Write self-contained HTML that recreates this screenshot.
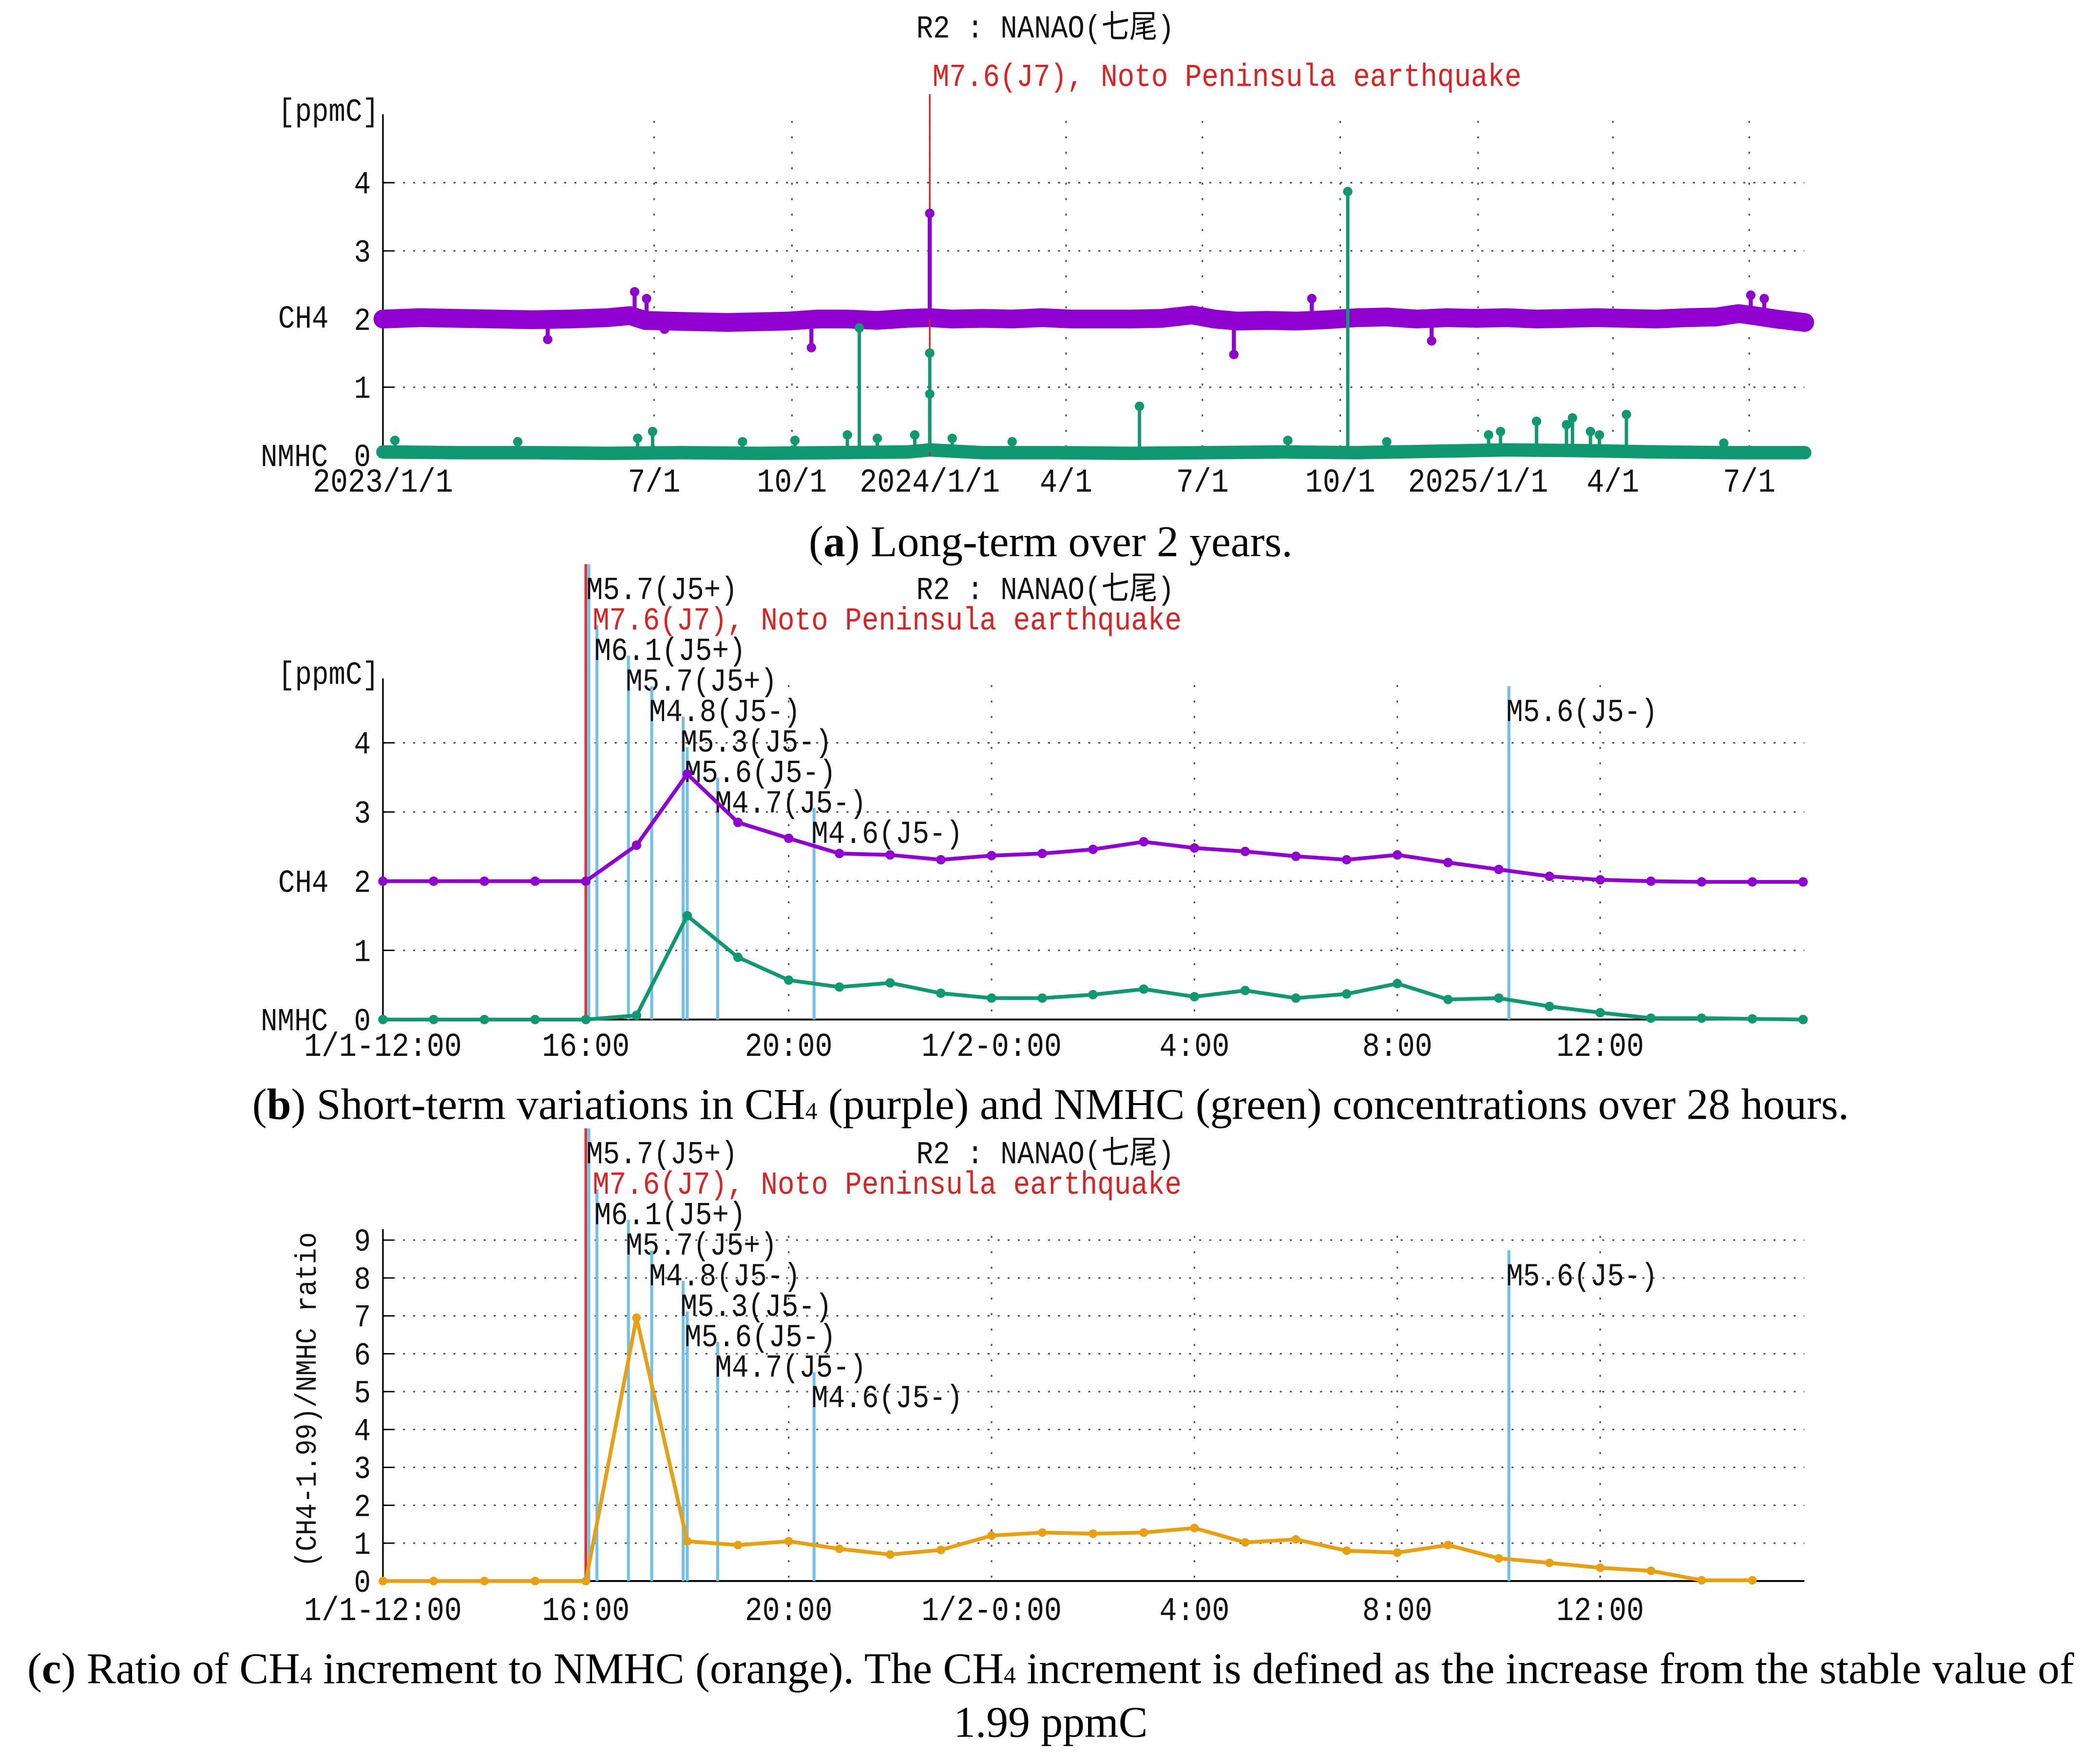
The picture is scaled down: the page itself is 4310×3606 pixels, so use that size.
<!DOCTYPE html>
<html><head><meta charset="utf-8">
<style>
html,body{margin:0;padding:0;background:#fff;}
svg{display:block;}
.t{font-family:"Liberation Mono","Noto Sans CJK JP",monospace;}
.cap{font-family:"Liberation Serif",serif;font-size:32.5px;fill:#000;}
</style></head>
<body>
<svg id="fig" width="4310" height="3606" viewBox="0 0 1563 1308" preserveAspectRatio="none" xmlns="http://www.w3.org/2000/svg">
<rect width="1563" height="1308" fill="#fff"/>
<text class="cap" x="782" y="414" text-anchor="middle">(<tspan font-weight="bold">a</tspan>) Long-term over 2 years.</text>
<text class="cap" x="782" y="833" text-anchor="middle">(<tspan font-weight="bold">b</tspan>) Short-term variations in CH<tspan font-size="18">4</tspan> (purple) and NMHC (green) concentrations over 28 hours.</text>
<text class="cap" x="782" y="1253" text-anchor="middle">(<tspan font-weight="bold">c</tspan>) Ratio of CH<tspan font-size="18">4</tspan> increment to NMHC (orange). The CH<tspan font-size="18">4</tspan> increment is defined as the increase from the stable value of</text>
<text class="cap" x="782" y="1293" text-anchor="middle">1.99 ppmC</text>
</svg>
<script>
// ---- Chart (a) data ----
const aTickLabels = ["2023/1/1","7/1","10/1","2024/1/1","4/1","7/1","10/1","2025/1/1","4/1","7/1"];
const aTickDays = [0,181,273,365,456,547,639,731,821,912];
const aCh4Days = [0,25,50,75,100,125,150,165,175,190,210,230,250,270,290,310,330,350,365,380,400,420,440,460,480,500,520,540,555,570,590,610,630,650,670,690,710,730,750,770,790,810,830,850,870,890,905,915,930,949];
const aCh4Vals = [2.0,2.02,2.01,2.0,1.99,2.0,2.02,2.05,1.98,1.97,1.96,1.95,1.96,1.97,2.0,2.0,1.98,2.01,2.02,2.0,2.01,2.0,2.02,2.0,2.0,2.0,2.01,2.06,2.0,1.97,1.98,1.97,1.99,2.02,2.03,2.0,2.02,2.01,2.02,2.0,2.01,2.02,2.01,2.0,2.02,2.03,2.08,2.05,2.0,1.95];
const aCh4SpikeDays = [110,168,176,188,286,365,568,620,700,913,922];
const aCh4SpikeVals = [1.7,2.4,2.3,1.85,1.58,3.55,1.48,2.3,1.68,2.35,2.3];
const aNmhcDays = [0,50,100,150,200,250,300,350,365,400,450,500,550,600,650,700,750,800,850,900,949];
const aNmhcVals = [0.05,0.04,0.04,0.03,0.04,0.03,0.04,0.05,0.08,0.04,0.04,0.03,0.04,0.05,0.04,0.06,0.08,0.07,0.05,0.04,0.04];
const aNmhcSpikeDays = [8,90,170,180,240,275,310,318,330,355,365,365,380,420,505,604,644,670,738,746,770,790,794,806,812,830,895];
const aNmhcSpikeVals = [0.22,0.2,0.25,0.35,0.2,0.22,0.3,1.87,0.25,0.3,1.5,0.9,0.25,0.2,0.72,0.22,3.87,0.2,0.3,0.35,0.5,0.45,0.55,0.35,0.3,0.6,0.18];
const aQuakeDay = 365;

// ---- Chart (b) data (hours after 1/1 12:00) ----
const bTickLabels = ["1/1-12:00","16:00","20:00","1/2-0:00","4:00","8:00","12:00"];
const bTickHours = [0,4,8,12,16,20,24];
const bHours = [0,1,2,3,4,5,6,7,8,9,10,11,12,13,14,15,16,17,18,19,20,21,22,23,24,25,26,27,28];
const bCh4 = [2.0,2.0,2.0,2.0,2.0,2.52,3.55,2.85,2.62,2.4,2.38,2.31,2.37,2.4,2.46,2.57,2.48,2.43,2.36,2.31,2.38,2.27,2.17,2.07,2.02,2.0,1.99,1.99,1.99];
const bNmhc = [0,0,0,0,0,0.06,1.5,0.9,0.57,0.47,0.53,0.38,0.31,0.31,0.36,0.44,0.33,0.42,0.31,0.37,0.52,0.29,0.31,0.19,0.1,0.02,0.02,0.01,0.0];
const quakeHours = [4.06,4.22,4.84,5.3,5.92,6.0,6.6,8.5,22.2];
const quakeLabels = ["M5.7(J5+)","M6.1(J5+)","M5.7(J5+)","M4.8(J5-)","M5.3(J5-)","M5.6(J5-)","M4.7(J5-)","M4.6(J5-)","M5.6(J5-)"];
const quakeLabelRow = [0,2,3,4,5,6,7,8,4];
const mainQuakeHour = 4.0;

// ---- Chart (c) data ----
const cHours = [0,1,2,3,4,5,6,7,8,9,10,11,12,13,14,15,16,17,18,19,20,21,22,23,24,25,26,27];
const cRatio = [0,0,0,0,0,6.95,1.05,0.95,1.05,0.85,0.7,0.82,1.2,1.28,1.25,1.28,1.4,1.02,1.1,0.8,0.75,0.95,0.6,0.48,0.35,0.27,0.02,0.02];
const cTicks = [0,1,2,3,4,5,6,7,8,9];

const NS="http://www.w3.org/2000/svg";
const svg=document.getElementById('fig');
function el(tag,attrs,parent){const e=document.createElementNS(NS,tag);for(const k in attrs)e.setAttribute(k,attrs[k]);(parent||svg).appendChild(e);return e;}
function txt(s,x,y,opts,parent){
  const e=el('text',{x:0,y:0,class:'t','font-size':opts.size||24,fill:opts.fill||'#111','text-anchor':opts.anchor||'start',transform:`translate(${x},${y})`+(opts.rot?` rotate(${opts.rot})`:'')+` scale(${opts.sx||0.87},1)`},parent);
  e.textContent=s;return e;}

const X0=285,X1=1343;
function axesFrame(g,yz,ytop,yGridVals,yScale,xGridXs){
  yGridVals.forEach(v=>{ if(v===0)return;
    const l=el('line',{x1:X0,x2:X1,y1:yScale(v),y2:yScale(v),stroke:'#555','stroke-width':1.2,'stroke-dasharray':'1.5 6'},g);
    
    el('line',{x1:X0,x2:X0+8,y1:yScale(v),y2:yScale(v),stroke:'#000','stroke-width':1},g);
  });
  xGridXs.forEach(x=>{
    const l=el('line',{x1:x,x2:x,y1:ytop+5,y2:yz,stroke:'#555','stroke-width':1.2,'stroke-dasharray':'1.5 10'},g);
    
  });
  const ax=el('line',{x1:X0,x2:X0,y1:ytop,y2:yz,stroke:'#000','stroke-width':1.2},g);
  
  const bx=el('line',{x1:X0,x2:X1,y1:yz,y2:yz,stroke:'#000','stroke-width':1.4},g);
  
}

// ===== Chart A =====
(function(){
  const g=el('g',{});
  const pxDay=(692-285)/365;
  const xs=d=>X0+d*pxDay, ys=v=>339-v*50.75;
  axesFrame(g,339,85,[0,1,2,3,4],ys,aTickDays.slice(1).map(xs));
  const band=el('polyline',{points:aCh4Days.map((d,i)=>xs(d)+','+ys(aCh4Vals[i])).join(' '),fill:'none',stroke:'#9000d0','stroke-width':14,'stroke-linejoin':'round','stroke-linecap':'round'},g);
  
  const nb=el('polyline',{points:aNmhcDays.map((d,i)=>xs(d)+','+ys(aNmhcVals[i])).join(' '),fill:'none',stroke:'#109870','stroke-width':10,'stroke-linejoin':'round','stroke-linecap':'round'},g);
  
  const q=el('line',{x1:xs(aQuakeDay),x2:xs(aQuakeDay),y1:70,y2:339,stroke:'#e02020','stroke-width':1.2},g);
  
  aCh4SpikeDays.forEach((d,i)=>{
    const s=el('line',{x1:xs(d),x2:xs(d),y1:ys(2.0),y2:ys(aCh4SpikeVals[i]),stroke:'#9000d0','stroke-width':3},g);
    
    el('circle',{cx:xs(d),cy:ys(aCh4SpikeVals[i]),r:3.5,fill:'#9000d0'},g);
  });
  aNmhcSpikeDays.forEach((d,i)=>{
    const s=el('line',{x1:xs(d),x2:xs(d),y1:ys(0.05),y2:ys(aNmhcSpikeVals[i]),stroke:'#109870','stroke-width':2.5},g);
    
    el('circle',{cx:xs(d),cy:ys(aNmhcSpikeVals[i]),r:3.5,fill:'#109870'},g);
  });
  [1,2,3,4].forEach(v=>{const t=txt(String(v),276,ys(v)+8,{anchor:'end'},g);});
  let t=txt('0',276,347,{anchor:'end'},g);
  t=txt('CH4',207,244,{},g);
  t=txt('NMHC',194,347,{},g);
  t=txt('[ppmC]',207,90,{},g);
  aTickLabels.forEach((s,i)=>{const tt=txt(s,xs(aTickDays[i]),366,{anchor:'middle',size:25},g);});
  t=txt('R2 : NANAO(七尾)',778,28,{anchor:'middle'},g);
  t=txt('M7.6(J7), Noto Peninsula earthquake',694,64,{fill:'#e02020'},g);
})();

function quakes(g,off,yz,xs){
  const rowY=r=>438+off+r*22.7;
  const rl=el('line',{x1:xs(mainQuakeHour),x2:xs(mainQuakeHour),y1:rowY(0)-18,y2:yz,stroke:'#e03030','stroke-width':2},g);
  
  quakeHours.forEach((h,i)=>{
    const y=rowY(quakeLabelRow[i]);
    const l=el('line',{x1:xs(h),x2:xs(h),y1:y-18,y2:yz,stroke:'#70c0ec','stroke-width':2.2},g);
    
    const t=txt(quakeLabels[i],xs(h)-2,y+8,{size:24},g);
    
  });
  let t=txt('M7.6(J7), Noto Peninsula earthquake',441,rowY(1)+8,{size:24,fill:'#e02020'},g);
  
  t=txt('R2 : NANAO(七尾)',778,446+off,{anchor:'middle'},g);
  
}

// ===== Chart B =====
(function(){
  const g=el('g',{});
  const pxH=37.75;const xs=h=>X0+h*pxH, ys=v=>759-v*51.5;
  axesFrame(g,759,505,[0,1,2,3,4],ys,bTickHours.slice(1).map(xs));
  quakes(g,0,759,xs);
  [[bCh4,'#9000d0','ch4-line'],[bNmhc,'#109870','nmhc-line']].forEach(([vals,c,n])=>{
    const p=el('polyline',{points:bHours.map((h,i)=>xs(h)+','+ys(vals[i])).join(' '),fill:'none',stroke:c,'stroke-width':2.8},g);
    
    bHours.forEach((h,i)=>{const d=el('circle',{cx:xs(h),cy:ys(vals[i]),r:3.5,fill:c},g);});
  });
  [1,2,3,4].forEach(v=>{const t=txt(String(v),276,ys(v)+8,{anchor:'end'},g);});
  let t=txt('0',276,767,{anchor:'end'},g);
  t=txt('CH4',207,664,{},g);
  t=txt('NMHC',194,767,{},g);
  t=txt('[ppmC]',207,509,{},g);
  bTickLabels.forEach((s,i)=>{const tt=txt(s,xs(bTickHours[i]),786,{anchor:'middle',size:25},g);});
})();

// ===== Chart C =====
(function(){
  const g=el('g',{});
  const pxH=37.75;const xs=h=>X0+h*pxH, ys=v=>1177-v*28.2;
  axesFrame(g,1177,915,cTicks,ys,bTickHours.slice(1).map(xs));
  quakes(g,420,1177,xs);
  const p=el('polyline',{points:cHours.map((h,i)=>xs(h)+','+ys(cRatio[i])).join(' '),fill:'none',stroke:'#e8a010','stroke-width':2.8},g);
  
  cHours.forEach((h,i)=>{const d=el('circle',{cx:xs(h),cy:ys(cRatio[i]),r:3.2,fill:'#e8a010'},g);});
  cTicks.forEach(v=>{const t=txt(String(v),276,ys(v)+8,{anchor:'end'},g);});
  let t=txt('(CH4-1.99)/NMHC ratio',235,1042,{anchor:'middle',size:22,sx:0.9,rot:-90},g);
  
  bTickLabels.forEach((s,i)=>{const tt=txt(s,xs(bTickHours[i]),1206,{anchor:'middle',size:25},g);});
})();
</script>
</body></html>
